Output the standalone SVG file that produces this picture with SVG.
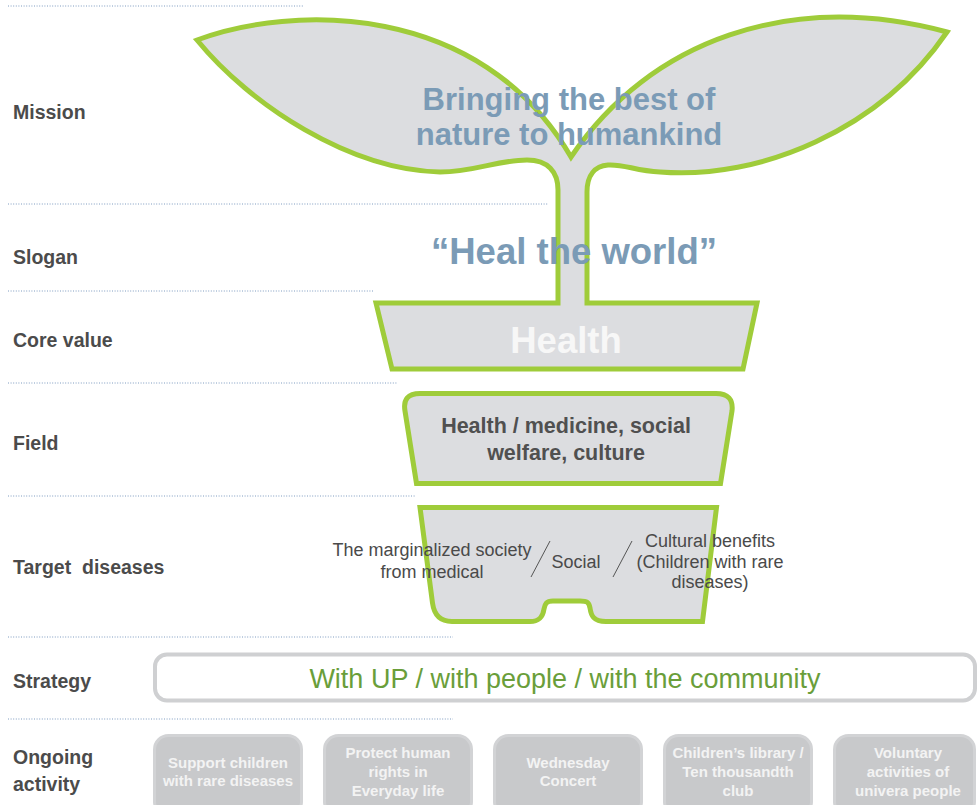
<svg xmlns="http://www.w3.org/2000/svg" width="977" height="805" viewBox="0 0 977 805">
  <style>
    .rule { stroke: #7f9cc0; stroke-width: 1; stroke-dasharray: 1 1.6; fill: none; }
    .label { font-family: "Liberation Sans", Arial, sans-serif; font-weight: bold; font-size: 19.5px; fill: #4b4b4b; }
    .plant { fill: #dcdde0; stroke: #9fcc3a; stroke-width: 5; stroke-linejoin: miter; stroke-miterlimit: 20; }
    .mission { font-family: "Liberation Sans", Arial, sans-serif; font-weight: bold; fill: #7b9bb6; text-anchor: middle; }
    .field { font-family: "Liberation Sans", Arial, sans-serif; font-weight: bold; font-size: 21.5px; fill: #505050; text-anchor: middle; }
    .target { font-family: "Liberation Sans", Arial, sans-serif; font-size: 18px; fill: #4a4a4a; text-anchor: middle; }
    .slash { stroke: #555555; stroke-width: 1; }
    .strategy { fill: #ffffff; stroke: #cfd0d2; stroke-width: 4; }
    .strategy-text { font-family: "Liberation Sans", Arial, sans-serif; font-size: 27px; fill: #6a9e3a; text-anchor: middle; }
    .act { fill: #c8c9cb; stroke: #d2d3d5; stroke-width: 3; }
    .act-text { font-family: "Liberation Sans", Arial, sans-serif; font-weight: bold; font-size: 15px; fill: #f3f3f3; text-anchor: middle; }
  </style>

  <!-- dotted row separators -->
  <g id="rules">
    <line class="rule" x1="8" y1="6" x2="304" y2="6"/>
    <line class="rule" x1="8" y1="204" x2="548" y2="204"/>
    <line class="rule" x1="8" y1="291" x2="373" y2="291"/>
    <line class="rule" x1="8" y1="383" x2="397" y2="383"/>
    <line class="rule" x1="8" y1="496" x2="415" y2="496"/>
    <line class="rule" x1="8" y1="637" x2="453" y2="637"/>
    <line class="rule" x1="8" y1="719" x2="453" y2="719"/>
  </g>

  <!-- row labels -->
  <g id="labels">
    <text class="label" x="13" y="119">Mission</text>
    <text class="label" x="13" y="264">Slogan</text>
    <text class="label" x="13" y="347">Core value</text>
    <text class="label" x="13" y="450">Field</text>
    <text class="label" x="13" y="574" style="white-space:pre">Target  diseases</text>
    <text class="label" x="13" y="688">Strategy</text>
    <text class="label" x="13" y="764">Ongoing</text>
    <text class="label" x="13" y="791">activity</text>
  </g>

  <!-- sprout: two leaves, stem and pot rim (Core value) -->
  <g id="sprout">
    <path class="plant" d="M 376,303 L 558,303 L 558,190 C 558,172 548,160 527,160 C 497,160 475,172 440,172 C 350,170 250,105 197,40 C 290,5 480,0 571,157 C 650,40 790,-10 947,32 C 880,130 760,180 660,172 C 635,171 625,164 608,165 C 595,166 587,175 587,192 L 587,303 L 757,303 L 743,369 L 392,369 Z"/>
    <text class="mission" x="569" y="110" font-size="31">Bringing the best of</text>
    <text class="mission" x="569" y="145" font-size="31">nature to humankind</text>
    <text class="mission" x="574" y="264" font-size="36.5">“Heal the world”</text>
    <text x="566" y="353" font-family="Liberation Sans, Arial, sans-serif" font-weight="bold" font-size="36.5" fill="#f7f7f7" text-anchor="middle">Health</text>
  </g>

  <!-- Field pot section -->
  <g id="field">
    <path class="plant" d="M 416.5,483.5 L 405,411 Q 402,393.5 420,393.5 L 716,393.5 Q 734,393.5 732,411 L 720.5,483.5 Z"/>
    <text class="field" x="566" y="433">Health / medicine, social</text>
    <text class="field" x="566" y="460">welfare, culture</text>
  </g>

  <!-- Target diseases pot base -->
  <g id="target">
    <path class="plant" d="M 420,507.5 L 716.5,507.5 L 702.5,621.5 L 606,621.5 C 593,621.5 591,615 590,608 C 589,602 587,601 580,601 L 553,601 C 546,601 545,604 544,609 C 543,616 540,621.5 530,621.5 L 452,621.5 C 439,621.5 434,614 432.5,603 Z"/>
    <text class="target" x="432" y="556">The marginalized society</text>
    <text class="target" x="432" y="578">from medical</text>
    <line class="slash" x1="550" y1="541" x2="531" y2="577"/>
    <text class="target" x="576" y="568">Social</text>
    <line class="slash" x1="632" y1="541" x2="613" y2="577"/>
    <text class="target" x="710" y="547">Cultural benefits</text>
    <text class="target" x="710" y="568">(Children with rare</text>
    <text class="target" x="710" y="588">diseases)</text>
  </g>

  <!-- Strategy banner -->
  <g id="strategy">
    <rect class="strategy" x="155" y="654.5" width="820" height="46" rx="12"/>
    <text class="strategy-text" x="565" y="688">With UP / with people / with the community</text>
  </g>

  <!-- Ongoing activities -->
  <g id="activity-1">
    <rect class="act" x="154.5" y="735.5" width="147" height="80" rx="14"/>
    <text class="act-text" x="228" y="768">Support children</text>
    <text class="act-text" x="228" y="786">with rare diseases</text>
  </g>
  <g id="activity-2">
    <rect class="act" x="324.5" y="735.5" width="147" height="80" rx="14"/>
    <text class="act-text" x="398" y="758">Protect human</text>
    <text class="act-text" x="398" y="777">rights in</text>
    <text class="act-text" x="398" y="796">Everyday life</text>
  </g>
  <g id="activity-3">
    <rect class="act" x="494.5" y="735.5" width="147" height="80" rx="14"/>
    <text class="act-text" x="568" y="768">Wednesday</text>
    <text class="act-text" x="568" y="786">Concert</text>
  </g>
  <g id="activity-4">
    <rect class="act" x="664.5" y="735.5" width="147" height="80" rx="14"/>
    <text class="act-text" x="738" y="758">Children’s library /</text>
    <text class="act-text" x="738" y="777">Ten thousandth</text>
    <text class="act-text" x="738" y="796">club</text>
  </g>
  <g id="activity-5">
    <rect class="act" x="834.5" y="735.5" width="140" height="80" rx="14"/>
    <text class="act-text" x="908" y="758">Voluntary</text>
    <text class="act-text" x="908" y="777">activities of</text>
    <text class="act-text" x="908" y="796">univera people</text>
  </g>
</svg>
